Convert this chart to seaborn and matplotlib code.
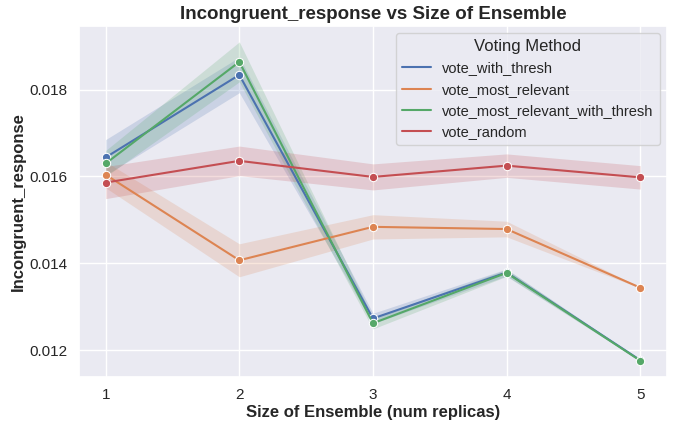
import numpy as np
import pandas as pd
import matplotlib
matplotlib.use("Agg")
import matplotlib.pyplot as plt
from matplotlib.lines import Line2D
import seaborn as sns

# Valores
ensemble_sizes = [1, 2, 3, 4, 5]
methods = ["vote_with_thresh", "vote_most_relevant",
           "vote_most_relevant_with_thresh", "vote_random"]

with_thresh = [0.01644, 0.01834, 0.01273, 0.01379, 0.01177]
most_relevant = [0.01604, 0.01407, 0.01484, 0.01479, 0.01344]
most_relevant_thresh = [0.01630, 0.01864, 0.01262, 0.01378, 0.01176]
random_vote = [0.01586, 0.01636, 0.01599, 0.01625, 0.01598]

# semi-amplitud del intervalo de confianza
with_thresh_ci = [0.00041, 0.00041, 0.00012, 0.00008, 0.00001]
most_relevant_ci = [0.00030, 0.00038, 0.00028, 0.00018, 0.00001]
most_relevant_thresh_ci = [0.00030, 0.00046, 0.00013, 0.00008, 0.00001]
random_vote_ci = [0.00037, 0.00034, 0.00030, 0.00027, 0.00027]

means = [with_thresh, most_relevant, most_relevant_thresh, random_vote]
cis = [with_thresh_ci, most_relevant_ci, most_relevant_thresh_ci, random_vote_ci]

df = pd.DataFrame({
    "Size of Ensemble": ensemble_sizes * len(methods),
    "Incongruent_response": np.concatenate(means),
    "Voting Method": np.repeat(methods, len(ensemble_sizes)),
})

sns.set_theme(style="darkgrid")
plt.rcParams["font.family"] = ["Liberation Sans", "DejaVu Sans"]
palette = sns.color_palette("deep", 4)

fig, ax = plt.subplots(figsize=(6.75, 4.25), dpi=100)
sns.lineplot(data=df, x="Size of Ensemble", y="Incongruent_response",
             hue="Voting Method", palette=palette, marker="o",
             markersize=6, errorbar=None, legend=False, ax=ax)

for m, ci, c in zip(means, cis, palette):
    m = np.array(m)
    ci = np.array(ci)
    ax.fill_between(ensemble_sizes, m - ci, m + ci, color=c, alpha=0.2, linewidth=0)

ax.set_xticks(ensemble_sizes)
ax.set_title("Incongruent_response vs Size of Ensemble", fontsize=13.5, fontweight="bold", pad=5)
ax.set_xlabel("Size of Ensemble (num replicas)", fontsize=12, fontweight="bold", labelpad=2)
ax.set_ylabel("Incongruent_response", fontsize=12, fontweight="bold", labelpad=3)
ax.set_yticks([0.012, 0.014, 0.016, 0.018])
ax.tick_params(labelsize=11, pad=2)

handles = [Line2D([], [], color=c, lw=1.5) for c in palette]
ax.legend(handles, methods, title="Voting Method", loc="upper right",
          fontsize=10.5, title_fontsize=12)

fig.subplots_adjust(left=0.117, right=0.988, bottom=0.113, top=0.939)
fig.savefig("out.png", dpi=100)
